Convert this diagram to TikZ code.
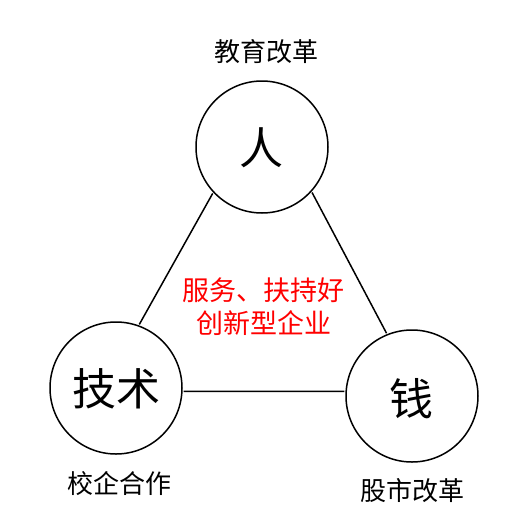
\documentclass[tikz,border=0pt]{standalone}
\usepackage{fontspec}
\newfontfamily\cjk{Noto Sans CJK SC}
\begin{document}
\begin{tikzpicture}[x=1pt,y=-1pt,
  ring/.style={circle,draw,line width=1.5pt,minimum size=132pt,inner sep=0pt},
  big/.style={inner sep=0pt,font=\cjk\fontsize{44}{48}\selectfont},
  lab/.style={inner sep=0pt,font=\cjk\fontsize{26}{30}\selectfont},
  redlab/.style={inner sep=0pt,text=red,font=\cjk\fontsize{27}{32}\selectfont},
  link/.style={line width=1.5pt,shorten <=1pt,shorten >=1pt}]
\useasboundingbox (0,0) rectangle (528,528);
\fill[white] (0,0) rectangle (528,528);
\node[ring] (T) at (262,147) {};
\node[ring] (L) at (116,388) {};
\node[ring] (R) at (412,396) {};
\node[big] (Tt) at (261,148) {人};
\node[big] (Lt) at (116,389) {技术};
\node[big] (Rt) at (411,399) {钱};
\node[lab] (tl) at (266,52) {教育改革};
\node[lab] (ll) at (119,484) {校企合作};
\node[lab] (rl) at (412,491) {股市改革};
\node[redlab] (c1) at (263,290) {服务、扶持好};
\node[redlab] (c2) at (264,323) {创新型企业};
\draw[link] (T.223) -- (L.70);
\draw[link] (T.318) -- (R.112);
\draw[link] (L.-3) -- (R.176);
\end{tikzpicture}
\end{document}
